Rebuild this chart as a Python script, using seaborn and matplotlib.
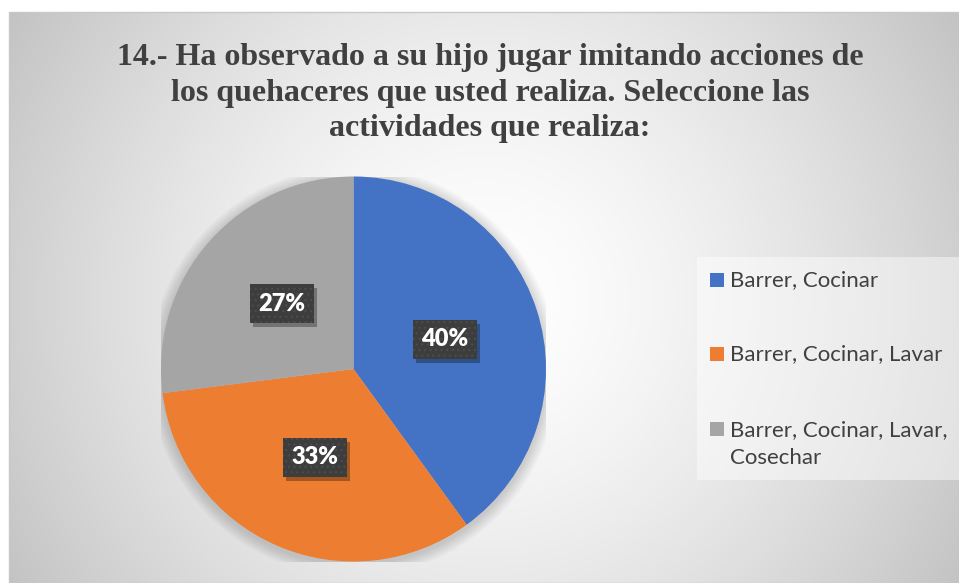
import numpy as np
import matplotlib
matplotlib.use("Agg")
import matplotlib.pyplot as plt
from matplotlib.patches import Rectangle, Circle
from matplotlib.transforms import IdentityTransform
import seaborn as sns

# ---- data ----
title = ("14.- Ha observado a su hijo jugar imitando acciones de\n"
         "los quehaceres que usted realiza. Seleccione las\n"
         "actividades que realiza:")
categories = ["Barrer, Cocinar", "Barrer, Cocinar, Lavar", "Barrer, Cocinar, Lavar,\nCosechar"]
values = [40, 33, 27]
colors = ["#4472C4", "#ED7D31", "#A5A5A5"]

sns.set_style("white")
plt.rcParams["font.family"] = ["Lato", "DejaVu Sans"]
plt.rcParams["hatch.linewidth"] = 0.8

W, H = 959, 583
fig = plt.figure(figsize=(W / 100, H / 100), dpi=100)
fig.patch.set_facecolor("white")

def fx(px):
    return px / W

def fy(py):
    return 1 - py / H

# ---- radial gradient background (chart area) ----
x0, y0 = 9, 12
cw, ch = W - x0, H - y0
bg = fig.add_axes([fx(x0), 0, cw / W, ch / H])
yy, xx = np.mgrid[0:ch, 0:cw]
cx, cy = 484 - x0, 300 - y0
d = np.sqrt((xx - cx) ** 2 + (yy - cy) ** 2) / 554.0
g = 255 - 60 * np.clip(d, 0, 1.1) ** 1.5
g = np.clip(g, 0, 255) / 255.0
img = np.dstack([g, g, g])
bg.imshow(img, aspect="auto", interpolation="bilinear")
bg.set_axis_off()
fig.add_artist(Rectangle((fx(x0), 0), cw / W, ch / H, transform=fig.transFigure,
                         fill=False, ec="#c8c8c8", lw=1, zorder=1))

# ---- title ----
fig.text(fx(490), fy(93), title, ha="center", va="center",
         family=["Liberation Serif", "DejaVu Serif"], weight="bold",
         fontsize=23, color="#404040", linespacing=1.28)

# ---- pie ----
pcx, pcy, r = 353.5, 369, 192.5
ax = fig.add_axes([fx(pcx - r), (H - pcy - r) / H, 2 * r / W, 2 * r / H])
ax.set_facecolor("none")

# soft shadow around pie
for k in range(8):
    ax.add_patch(Circle((0.0, -0.012), 1.0 + 0.008 * (k + 1), color="black",
                        alpha=0.018, lw=0, zorder=0))

wedges, texts, autotexts = ax.pie(
    values, colors=colors, startangle=90, counterclock=False, radius=1,
    autopct=lambda p: f"{p:.0f}%", pctdistance=0.5,
    wedgeprops=dict(linewidth=0, zorder=2),
    textprops=dict(color="white", fontsize=17, weight="heavy"),
)
ax.set_xlim(-1, 1)
ax.set_ylim(-1, 1)
ax.set_axis_off()

# Excel best-fit placement shifts the smallest label
autotexts[2].set_position((-0.372, 0.339))

for t in autotexts:
    t.set_zorder(6)
    t.set_bbox(dict(boxstyle="square,pad=0.36", fc="#3d3d3d", ec="#4d4d4d",
                    lw=0, hatch="..."))

# drop shadows behind the label boxes (inside the pie axes, below the labels)
fig.canvas.draw()
for t in autotexts:
    bb = t.get_bbox_patch().get_window_extent()
    shadow = Rectangle((bb.x0 + 3, bb.y0 - 4), bb.width, bb.height,
                       transform=IdentityTransform(), fc="black", alpha=0.3,
                       ec="none", zorder=5)
    shadow.set_clip_on(False)
    ax.add_artist(shadow)

# ---- legend (manual, Excel style) ----
fig.add_artist(Rectangle((fx(697), fy(480)), fx(959) - fx(697), (480 - 257) / H,
                         transform=fig.transFigure, fc="white", alpha=0.45, ec="none", zorder=3))
rows_y = [280, 354, 428.5]
for cat, col, ry in zip(categories, colors, rows_y):
    fig.add_artist(Rectangle((fx(710), fy(ry + 7)), 14 / W, 14 / H,
                             transform=fig.transFigure, fc=col, ec="none", zorder=4))
    n_lines = cat.count("\n") + 1
    if n_lines == 1:
        fig.text(fx(730), fy(ry), cat, ha="left", va="center", fontsize=16,
                 color="#404040", zorder=4)
    else:
        fig.text(fx(730), fy(ry + 16), cat, ha="left", va="center", fontsize=16,
                 color="#404040", zorder=4, linespacing=1.5)

fig.savefig("out.png", dpi=100)
